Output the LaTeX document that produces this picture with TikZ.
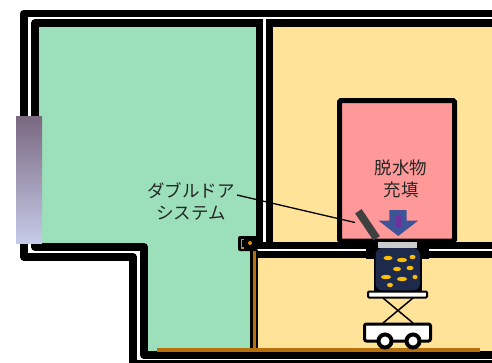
\documentclass[tikz,border=0pt]{standalone}
\usepackage{fontspec}
\usepackage{tikz}
\newfontfamily\jpfont{Noto Sans CJK JP}

\definecolor{roomgreen}{RGB}{155,224,187}
\definecolor{roomyellow}{RGB}{255,227,153}
\definecolor{tankpink}{RGB}{255,153,153}
\definecolor{floorbrown}{RGB}{183,112,12}
\definecolor{lampamber}{RGB}{226,138,0}
\definecolor{arrowblue}{RGB}{63,84,150}
\definecolor{arrowpurple}{RGB}{112,48,160}
\definecolor{sludge}{RGB}{30,42,76}
\definecolor{grain}{RGB}{250,190,0}
\definecolor{panetop}{RGB}{122,104,128}
\definecolor{panebottom}{RGB}{197,203,232}

\begin{document}
\begin{tikzpicture}[x=1pt, y=-1pt,
  wall/.style={line width=7.5pt, line join=round},
  partition/.style={draw=black, line width=7pt, double=white, double distance=2.5pt},
  lab/.style={font=\jpfont\fontsize{17.5}{22}\selectfont, text=black!85, align=center, inner sep=2pt},
  leader/.style={line width=1.3pt},
  flap/.style={fill=black!75, minimum width=32.6pt, minimum height=7.8pt, inner sep=0pt},
  spot/.style={fill=grain}
]
\useasboundingbox (0,0) rectangle (492,362);
\clip (0,0) rectangle (492,362);

% rooms
\fill[roomgreen] (35,23) -- (264,23) -- (264,250) -- (254,250) -- (254,355)
  -- (144,355) -- (144,247) -- (35,247) -- cycle;
\fill[roomyellow] (264,23) rectangle (500,250);
\fill[roomyellow] (254,250) rectangle (500,355);

% hopper above the opening
\draw[line width=5pt, fill=tankpink, rounded corners=1.5pt] (339.5,100.5) rectangle (454.5,241);

% outer walls (two lines each)
\draw[wall] (500,13.5) -- (24,13.5) -- (24,257) -- (133,257) -- (133,364) -- (500,364);
\draw[wall] (500,23) -- (35,23) -- (35,247) -- (144,247) -- (144,355) -- (500,355);

% inner partitions
\path[partition] (264.3,19) -- (264.3,250);
\path[partition] (256,250) -- (500,250);
\fill (366,241.5) rectangle (429,258.5);

% door post and floor rail
\draw[line width=8pt] (254,250) -- (254,349);
\draw[floorbrown, line width=3pt] (254,251) -- (254,349);
\fill[floorbrown] (157,347.5) rectangle (480,351.5);

% window
\shade[top color=panetop, bottom color=panebottom] (16,116) rectangle (42,243);

% door sensor
\fill[rounded corners=2pt] (238,236) rectangle (257.5,251);
\draw[lampamber, line width=1.5pt] (244,239.5) -- (241.5,239.5) -- (241.5,248) -- (244,248);
\fill[lampamber] (250,243) circle[radius=2];

% container with lid
\fill (374,241) rectangle (422,292);
\fill[black!20] (378,242) rectangle (417,247.5);
\fill[sludge, rounded corners=7pt] (375.5,248) rectangle (420,290.5);
\foreach \sx/\sy/\sr in {388/258/4.5, 402/260/5, 412.5/257/3, 397/269/4,
    410/268/3.5, 386/277/5, 402/279/5, 415/277/2.5, 390/285/3}
  \fill[spot] (\sx,\sy) ellipse[x radius=\sr, y radius=2.2];

% lift table and cart
\draw[line width=2pt, fill=white, rounded corners=1pt] (368,291.5) rectangle (427,297.5);
\draw[line width=1.5pt] (383,298) -- (413,323) (413,298) -- (383,323);
\draw[line width=3pt, fill=white, rounded corners=2pt] (364.5,324) rectangle (430.5,341);
\foreach \wx in {385,413}
  \draw[line width=4pt, fill=white] (\wx,341) circle[radius=6.5];

% feed arrow
\fill[arrowblue] (389.3,210) -- (406.7,210) -- (406.7,220.5) -- (418.3,220.5)
  -- (398.3,236) -- (378.3,220.5) -- (389.3,220.5) -- cycle;
\fill[arrowpurple, rounded corners=2pt] (395.7,215) rectangle (401.7,227.5);

% flap and labels
\node[flap, rotate=-56] (flap) at (367.5,224.8) {};
\coordinate (flaptip) at (355,222.5);
\node[lab] (door) at (191,201) {ダブルドア\\システム};
\node[lab] (filling) at (401,178.5) {脱水物\\充填};
\draw[leader] ([yshift=6pt]door.east) -- (flaptip);
\end{tikzpicture}
\end{document}
